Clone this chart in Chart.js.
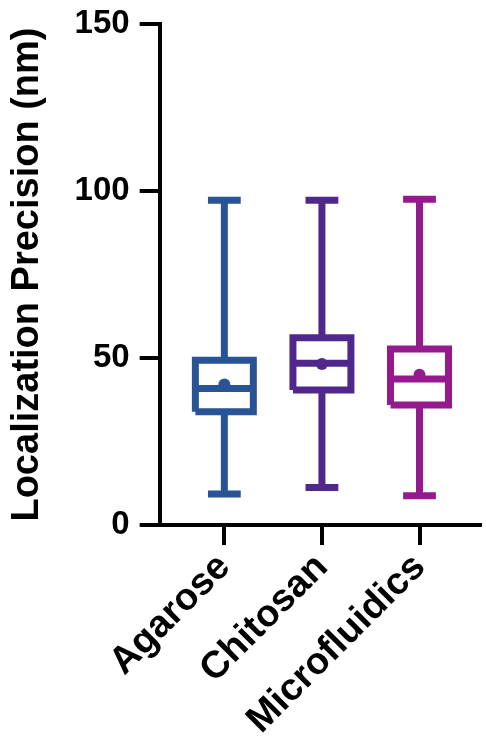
<!DOCTYPE html>
<html>
<head>
<meta charset="utf-8">
<script src="https://cdn.jsdelivr.net/npm/chart.js@4"></script>
<style>
  html, body { margin: 0; padding: 0; background: #fff; }
  #wrap { width: 486px; height: 743px; }
</style>
</head>
<body>
<div id="wrap"><canvas id="boxChart" width="486" height="743"></canvas></div>
<script>
// data (nm)
const categories = ["Agarose", "Chitosan", "Microfluidics"];
const whiskerMin = [9.3, 11.2, 8.8];
const q1Values = [33.9, 40.4, 35.9];
const medianValues = [40.9, 48.4, 43.7];
const q3Values = [49.3, 56.1, 52.7];
const whiskerMax = [97.2, 97.2, 97.5];
const meanValues = [42.1, 48.2, 45.0];
const yTicks = [0, 50, 100, 150];
const colors = ["#285394", "#50288c", "#941a8e"];

const boxHalf = 0.297;   // half box width in category units
const capHalf = 0.168;   // half cap width

// build one line dataset per category (box outline, median, whiskers, caps)
const datasets = [];
categories.forEach((cat, i) => {
    const x = i + 1;
    const gap = { x: x, y: null };
    const pts = [
        { x: x - boxHalf, y: q1Values[i] }, { x: x + boxHalf, y: q1Values[i] },
        { x: x + boxHalf, y: q3Values[i] }, { x: x - boxHalf, y: q3Values[i] },
        { x: x - boxHalf, y: q1Values[i] }, gap,
        { x: x - boxHalf, y: medianValues[i] }, { x: x + boxHalf, y: medianValues[i] }, gap,
        { x: x, y: q3Values[i] }, { x: x, y: whiskerMax[i] }, gap,
        { x: x - capHalf, y: whiskerMax[i] }, { x: x + capHalf, y: whiskerMax[i] }, gap,
        { x: x, y: q1Values[i] }, { x: x, y: whiskerMin[i] }, gap,
        { x: x - capHalf, y: whiskerMin[i] }, { x: x + capHalf, y: whiskerMin[i] }
    ];
    datasets.push({
        label: cat,
        data: pts,
        showLine: true,
        spanGaps: false,
        borderColor: colors[i],
        borderWidth: 7,
        borderJoinStyle: "miter",
        borderCapStyle: "butt",
        pointRadius: 0,
        tension: 0
    });
    datasets.push({
        label: cat + " mean",
        data: [{ x: x, y: meanValues[i] }],
        showLine: false,
        pointStyle: "circle",
        pointRadius: 6,
        pointBorderWidth: 0,
        backgroundColor: colors[i],
        borderColor: colors[i]
    });
});

const font = { family: "'Liberation Sans', Arial, sans-serif", weight: "bold" };

new Chart(document.getElementById("boxChart"), {
    type: "scatter",
    data: { datasets: datasets },
    options: {
        responsive: false,
        animation: false,
        layout: { padding: { left: 5, right: 0, top: 0, bottom: 0 } },
        plugins: { legend: { display: false }, tooltip: { enabled: false } },
        scales: {
            x: {
                type: "linear",
                min: 0.337,
                max: 3.62,
                afterBuildTicks: (scale) => {
                    scale.ticks = categories.map((c, i) => ({ value: i + 1 }));
                },
                ticks: {
                    callback: (v) => categories[v - 1],
                    color: "#000",
                    font: { ...font, size: 38 },
                    minRotation: 45,
                    maxRotation: 45,
                    padding: 0
                },
                grid: { drawOnChartArea: false, tickLength: 20, lineWidth: 4, color: "#000" },
                border: { color: "#000", width: 4 }
            },
            y: {
                min: 0,
                max: 150,
                afterBuildTicks: (scale) => {
                    scale.ticks = yTicks.map((v) => ({ value: v }));
                },
                afterFit: (scale) => {
                    scale.paddingTop = 24;
                },
                ticks: {
                    color: "#000",
                    font: { ...font, size: 33 },
                    padding: 10
                },
                grid: { drawOnChartArea: false, tickLength: 20, lineWidth: 4, color: "#000" },
                border: { color: "#000", width: 4 },
                title: {
                    display: true,
                    text: "Localization Precision (nm)",
                    color: "#000",
                    font: { ...font, size: 38 },
                    padding: { top: 0, bottom: 14 }
                }
            }
        }
    }
});
</script>
</body>
</html>
